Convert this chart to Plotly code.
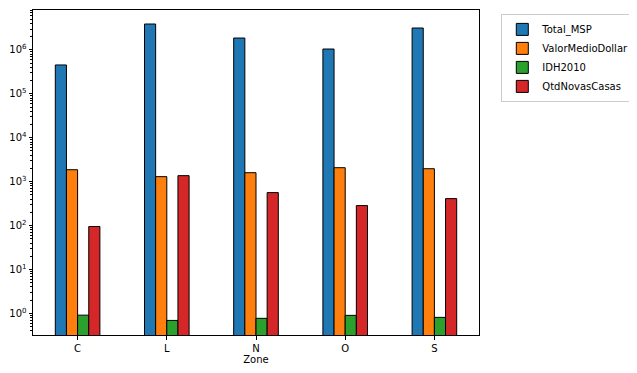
import plotly.graph_objects as go

zones = ["C", "L", "N", "O", "S"]
total_msp = [455000, 3900000, 1870000, 1050000, 3160000]
valor_medio_dollar = [1870, 1300, 1600, 2080, 1970]
idh2010 = [0.91, 0.69, 0.77, 0.90, 0.81]
qtd_novas_casas = [95, 1370, 563, 285, 411]

series_names = ["Total_MSP", "ValorMedioDollar", "IDH2010", "QtdNovasCasas"]
colors = ["#1f77b4", "#ff7f0e", "#2ca02c", "#d62728"]
series_values = [total_msp, valor_medio_dollar, idh2010, qtd_novas_casas]

major_exps = [0, 1, 2, 3, 4, 5, 6]
major_text = ["10<sup>%d</sup>" % e for e in major_exps]

fig = go.Figure()
for name, col, vals in zip(series_names, colors, series_values):
    fig.add_trace(go.Bar(
        x=zones, y=vals, name=name,
        marker=dict(color=col, line=dict(color="black", width=1)),
    ))

minor_vals = [m * 10 ** e for e in range(-1, 7) for m in range(2, 10)]

# page body has an 8px default margin; figure sized to fit the 637x373 window
fig.update_layout(
    width=629, height=365,
    margin=dict(l=25, r=158, t=2, b=38, autoexpand=False),
    paper_bgcolor="white", plot_bgcolor="white",
    barmode="group", bargap=0.5, bargroupgap=0,
    font=dict(family="DejaVu Sans", size=10, color="black"),
    showlegend=True,
    legend=dict(
        x=1.05, y=0.988, xanchor="left", yanchor="top",
        bgcolor="white", bordercolor="#cccccc", borderwidth=1,
        font=dict(size=10), tracegroupgap=0, itemwidth=30,
    ),
    xaxis=dict(
        title=dict(text="Zone", font=dict(size=10), standoff=2),
        range=[-0.5, 4.5], automargin=False,
        showline=True, linecolor="black", linewidth=1, mirror=True,
        ticks="outside", ticklen=3.5, tickcolor="black",
        showgrid=False, zeroline=False,
    ),
    yaxis=dict(
        type="log", automargin=False,
        range=[-0.493, 6.91],
        tickvals=[10 ** e for e in major_exps], ticktext=major_text,
        showline=True, linecolor="black", linewidth=1, mirror=True,
        ticks="outside", ticklen=3.5, tickcolor="black",
        showgrid=False, zeroline=False,
        minor=dict(tickvals=minor_vals, ticks="outside", ticklen=2, tickcolor="black", showgrid=False),
    ),
)

fig.write_html("out.html")
